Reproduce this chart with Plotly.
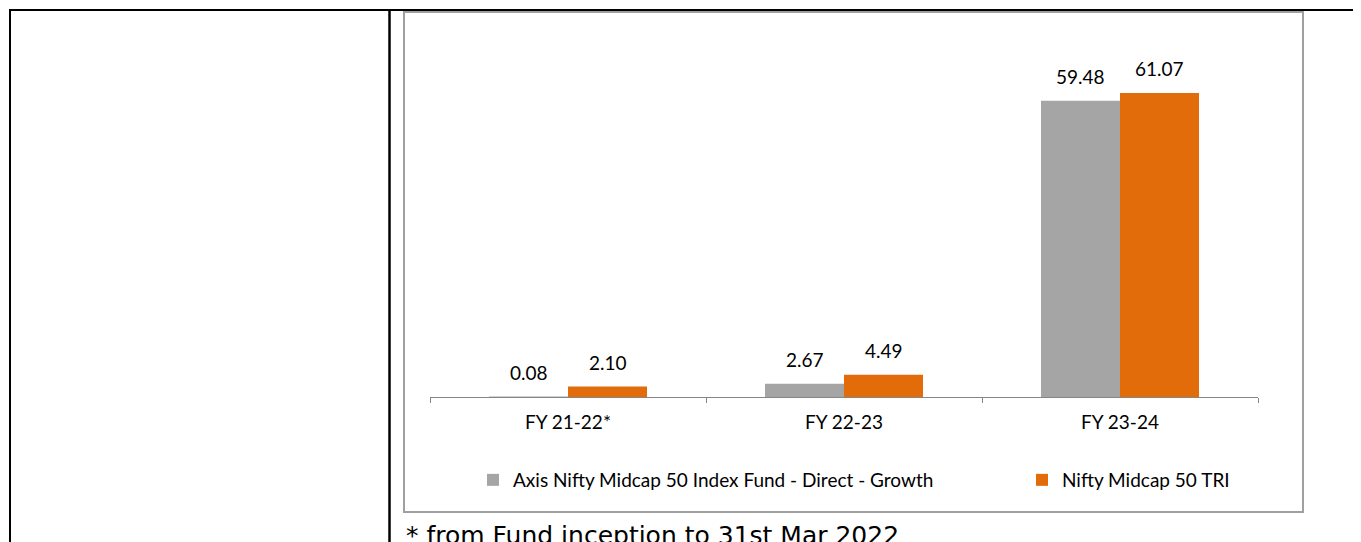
import plotly.graph_objects as go

categories = ["FY 21-22*", "FY 22-23", "FY 23-24"]
fund_name = "Axis Nifty Midcap 50 Index Fund - Direct - Growth"
bench_name = "Nifty Midcap 50 TRI"
fund_values = [0.08, 2.67, 59.48]
bench_values = [2.10, 4.49, 61.07]
footnote = "* from Fund inception to 31st Mar 2022"

# the page has an 8px body margin; figure fills the rest of the window
OFF = 8
W, H = 1361 - OFF, 542 - OFF
GRAY = "#A5A5A5"
ORANGE = "#E36C0A"
FONT = "Lato"


def px(x):
    """page pixel x -> paper fraction"""
    return (x - OFF) / W


def py(y):
    """page pixel y (from top) -> paper fraction"""
    return 1 - (y - OFF) / H


fig = go.Figure()
fig.add_bar(x=categories, y=fund_values, name=fund_name, marker_color=GRAY,
            marker_line_width=0, legendwidth=504)
fig.add_bar(x=categories, y=bench_values, name=bench_name, marker_color=ORANGE,
            marker_line_width=0, legendwidth=180)

annotations = []
for i, c in enumerate(categories):
    for vals, shift in ((fund_values, -39.5), (bench_values, 39.5)):
        annotations.append(dict(x=c, y=vals[i], xref="x", yref="y",
                                text=f"{vals[i]:.2f}", showarrow=False,
                                xshift=shift, yshift=24,
                                font=dict(family=FONT, size=19, color="#000")))
annotations.append(dict(x=px(404), y=py(552), xref="paper", yref="paper",
                        xanchor="left", yanchor="bottom",
                        text=footnote, showarrow=False,
                        font=dict(family="DejaVu Sans", size=25, color="#000")))

shapes = [
    # table lines
    dict(type="line", xref="paper", yref="paper", x0=px(9), x1=1, y0=py(10), y1=py(10),
         line=dict(color="#000", width=2)),
    dict(type="line", xref="paper", yref="paper", x0=px(10), x1=px(10), y0=py(9), y1=0,
         line=dict(color="#000", width=2)),
    dict(type="line", xref="paper", yref="paper", x0=px(389.5), x1=px(389.5), y0=py(9), y1=0,
         line=dict(color="#000", width=2.5)),
    # chart box
    dict(type="rect", xref="paper", yref="paper", x0=px(404), x1=px(1303), y0=py(12), y1=py(512),
         line=dict(color="#A0A0A0", width=2)),
]

y_bottom_px, y_top_px = 397, 48.5
fig.update_layout(
    width=W, height=H,
    margin=dict(l=0, r=0, t=0, b=0),
    paper_bgcolor="white", plot_bgcolor="white",
    barmode="group", bargap=0.4275, bargroupgap=0,
    font=dict(family=FONT, size=19, color="#000"),
    xaxis=dict(domain=[px(430), px(1258)], range=[-0.5, 2.5],
               showline=True, linecolor="#868686", linewidth=1,
               ticks="outside", tickson="boundaries", ticklen=5, tickcolor="#868686",
               tickfont=dict(family=FONT, size=19, color="#000"),
               ticklabelstandoff=8, showgrid=False, zeroline=False),
    yaxis=dict(domain=[py(y_bottom_px), py(y_top_px)], range=[0, 70],
               visible=False, showgrid=False, zeroline=False),
    showlegend=True,
    legend=dict(orientation="h", x=px(473), xanchor="left", y=py(480), yanchor="middle",
                traceorder="normal", borderwidth=0,
                font=dict(family=FONT, size=19, color="#000"), bgcolor="rgba(0,0,0,0)"),
    annotations=annotations,
    shapes=shapes,
)

fig.write_html("out.html")
